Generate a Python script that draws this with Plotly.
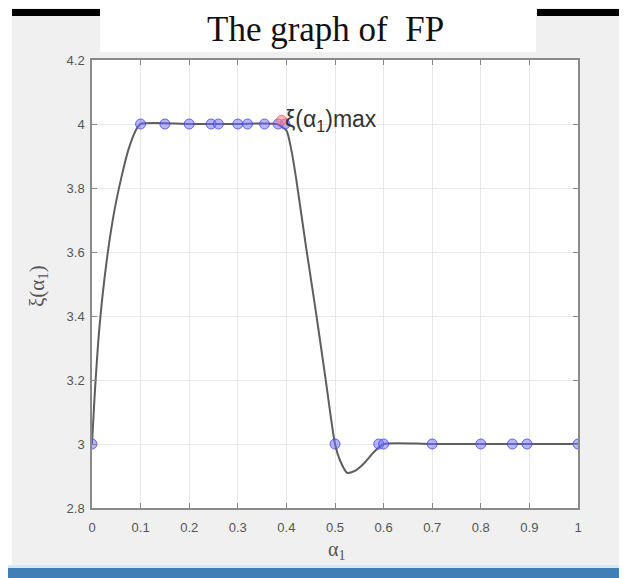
import plotly.graph_objects as go

# ---- data ----
curve_x = [0, 0.005, 0.015, 0.03, 0.045, 0.06, 0.075, 0.09, 0.1, 0.2, 0.3, 0.38,
           0.4, 0.41, 0.42, 0.44, 0.46, 0.48, 0.5, 0.51, 0.525, 0.54, 0.56, 0.58,
           0.6, 0.7, 1.0]
curve_y = [3.0, 3.14, 3.36, 3.57, 3.72, 3.83, 3.92, 3.98, 4.0, 4.0, 4.0, 4.0,
           3.98, 3.92, 3.83, 3.62, 3.42, 3.21, 3.0, 2.95, 2.91, 2.915, 2.94, 2.975,
           3.0, 3.0, 3.0]

pts_x = [0, 0.1, 0.15, 0.2, 0.245, 0.26, 0.3, 0.32, 0.355, 0.383, 0.397,
         0.5, 0.59, 0.6, 0.7, 0.8, 0.865, 0.895, 1.0]
pts_y = [3, 4, 4, 4, 4, 4, 4, 4, 4, 4, 4,
         3, 3, 3, 3, 3, 3, 3, 3]

max_x = [0.39]
max_y = [4.012]

x_ticks = [0, 0.1, 0.2, 0.3, 0.4, 0.5, 0.6, 0.7, 0.8, 0.9, 1]
x_tick_labels = ["0", "0.1", "0.2", "0.3", "0.4", "0.5", "0.6", "0.7", "0.8", "0.9", "1"]
y_ticks = [2.8, 3, 3.2, 3.4, 3.6, 3.8, 4, 4.2]
y_tick_labels = ["2.8", "3", "3.2", "3.4", "3.6", "3.8", "4", "4.2"]

title_text = "The graph of  FP"
# ------------------------------------

PAGE_OFF = 8  # browser default body margin
W, H = 627 - PAGE_OFF, 578 - PAGE_OFF
L, R, T, B = 92 - PAGE_OFF, 49, 60 - PAGE_OFF, 70
PW, PH = W - L - R, H - T - B


def px_x(px):  # page pixel -> paper coordinate
    return (px - PAGE_OFF - L) / PW


def px_y(py):
    return (H - B - (py - PAGE_OFF)) / PH


fig = go.Figure()
fig.add_trace(go.Scatter(x=curve_x, y=curve_y, mode="lines",
                         line=dict(color="#5e5e5e", width=2, shape="spline", smoothing=0.6),
                         hoverinfo="skip", showlegend=False))
fig.add_trace(go.Scatter(x=pts_x, y=pts_y, mode="markers",
                         marker=dict(symbol="circle", size=10, color="rgba(110,110,255,0.5)",
                                     line=dict(color="rgba(70,70,230,0.8)", width=1)),
                         showlegend=False))
fig.add_trace(go.Scatter(x=max_x, y=max_y, mode="markers",
                         marker=dict(symbol="circle", size=10, color="rgba(255,130,140,0.6)",
                                     line=dict(color="rgba(240,100,110,0.8)", width=1)),
                         showlegend=False))

shapes = [
    # white surroundings of the screenshot
    dict(type="rect", xref="paper", yref="paper", x0=px_x(0), x1=px_x(12), y0=px_y(0), y1=px_y(578),
         fillcolor="white", line_width=0, layer="below"),
    dict(type="rect", xref="paper", yref="paper", x0=px_x(621), x1=px_x(627), y0=px_y(0), y1=px_y(566),
         fillcolor="white", line_width=0, layer="below"),
    dict(type="rect", xref="paper", yref="paper", x0=px_x(100), x1=px_x(536), y0=px_y(0), y1=px_y(52),
         fillcolor="white", line_width=0, layer="below"),
    # black bars
    dict(type="rect", xref="paper", yref="paper", x0=px_x(12), x1=px_x(100), y0=px_y(9), y1=px_y(16),
         fillcolor="black", line_width=0),
    dict(type="rect", xref="paper", yref="paper", x0=px_x(537), x1=px_x(627), y0=px_y(9), y1=px_y(16),
         fillcolor="black", line_width=0),
    # bottom blue line
    dict(type="rect", xref="paper", yref="paper", x0=px_x(0), x1=px_x(627), y0=px_y(565), y1=px_y(568),
         fillcolor="#d6e8f5", line_width=0),
    dict(type="rect", xref="paper", yref="paper", x0=px_x(0), x1=px_x(627), y0=px_y(568), y1=px_y(578),
         fillcolor="#3f7fb5", line_width=0),
]

axis_common = dict(showgrid=True, gridcolor="#e8e8e8", gridwidth=1,
                   showline=True, linecolor="#8a8a8a", linewidth=1.5, mirror="ticks",
                   ticks="inside", ticklen=5, tickcolor="#8a8a8a",
                   tickfont=dict(family="Liberation Sans", size=13, color="#555555"),
                   zeroline=False)

fig.update_layout(
    width=W, height=H,
    margin=dict(l=L, r=R, t=T, b=B, pad=0),
    paper_bgcolor="#f0f0f0", plot_bgcolor="white",
    shapes=shapes,
    xaxis=dict(range=[0, 1], tickvals=x_ticks, ticktext=x_tick_labels,
               ticklabelstandoff=7, **axis_common),
    yaxis=dict(range=[2.8, 4.2], tickvals=y_ticks, ticktext=y_tick_labels,
               ticklabelstandoff=3, **axis_common),
    annotations=[
        dict(text=title_text, xref="paper", yref="paper", x=px_x(325), y=px_y(30),
             xanchor="center", yanchor="middle", showarrow=False,
             font=dict(family="Liberation Serif", size=35, color="#111111")),
        dict(text="ξ(α<sub>1</sub>)max", xref="x", yref="y", x=0.393, y=4.012,
             xanchor="left", yanchor="middle", showarrow=False,
             font=dict(family="Liberation Sans", size=23, color="#333333")),
        dict(text="ξ(α<sub>1</sub>)", xref="paper", yref="paper", x=px_x(38), y=px_y(286),
             xanchor="center", yanchor="middle", textangle=-90, showarrow=False,
             font=dict(family="Liberation Serif", size=21, color="#555555")),
        dict(text="α<sub>1</sub>", xref="paper", yref="paper", x=px_x(336), y=px_y(550),
             xanchor="center", yanchor="middle", showarrow=False,
             font=dict(family="Liberation Serif", size=20, color="#555555")),
    ],
)

fig.write_html("out.html")
